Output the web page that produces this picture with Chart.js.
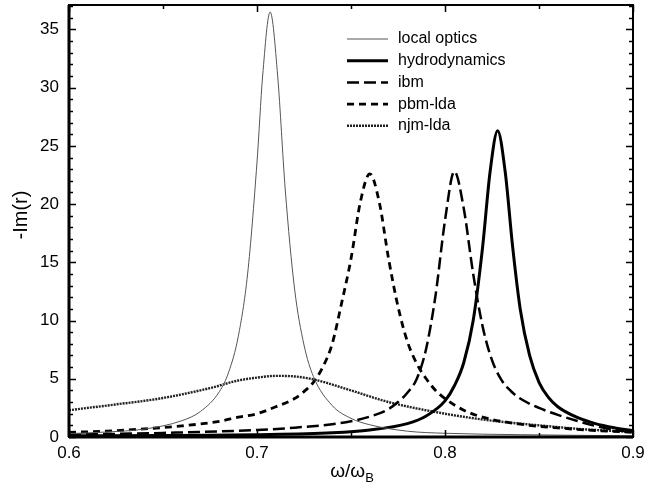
<!DOCTYPE html>
<html>
<head>
<meta charset="utf-8">
<script src="https://cdn.jsdelivr.net/npm/chart.js@4/dist/chart.umd.min.js"></script>
<style>
html, body { margin: 0; padding: 0; background: #fff; }
</style>
</head>
<body>
<canvas id="c" width="657" height="487"></canvas>
<script>
// axis ticks
const xTicks = [0.6, 0.7, 0.8, 0.9];
const yTicks = [0, 5, 10, 15, 20, 25, 30, 35];

// series
const localX = [0.6, 0.62, 0.64, 0.66, 0.67, 0.68, 0.685, 0.69, 0.695, 0.7, 0.703, 0.707, 0.711, 0.715, 0.72, 0.725, 0.73, 0.74, 0.75, 0.76, 0.78, 0.8, 0.84, 0.9];
const localY = [0.29, 0.43, 0.68, 1.4, 2.2, 3.9, 5.6, 8.6, 14.0, 23.6, 31.0, 36.5, 31.0, 21.3, 12.7, 7.9, 5.2, 2.7, 1.6, 1.05, 0.5, 0.32, 0.2, 0.1];

const hydroX = [0.6, 0.65, 0.7, 0.74, 0.76, 0.78, 0.79, 0.8, 0.805, 0.81, 0.815, 0.82, 0.824, 0.828, 0.832, 0.836, 0.84, 0.845, 0.85, 0.855, 0.86, 0.87, 0.88, 0.89, 0.9];
const hydroY = [0.1, 0.13, 0.2, 0.36, 0.6, 1.15, 1.8, 3.1, 4.4, 6.4, 10.0, 16.3, 22.8, 26.3, 22.8, 16.3, 11.0, 7.0, 4.7, 3.4, 2.6, 1.7, 1.15, 0.8, 0.55];

const ibmX = [0.6, 0.65, 0.7, 0.72, 0.74, 0.75, 0.76, 0.77, 0.775, 0.78, 0.785, 0.79, 0.795, 0.8, 0.805, 0.81, 0.815, 0.82, 0.825, 0.83, 0.835, 0.84, 0.85, 0.86, 0.87, 0.88, 0.89, 0.9];
const ibmY = [0.2, 0.35, 0.6, 0.8, 1.1, 1.35, 1.75, 2.4, 3.0, 3.8, 5.0, 7.6, 12.2, 18.6, 22.8, 19.6, 14.0, 9.5, 6.6, 4.9, 3.95, 3.3, 2.5, 1.9, 1.4, 0.95, 0.62, 0.4];

const pbmX = [0.6, 0.62, 0.64, 0.66, 0.68, 0.69, 0.7, 0.71, 0.72, 0.725, 0.73, 0.735, 0.74, 0.745, 0.75, 0.755, 0.76, 0.765, 0.77, 0.775, 0.78, 0.785, 0.79, 0.795, 0.8, 0.81, 0.82, 0.84, 0.86, 0.88, 0.9];
const pbmY = [0.4, 0.5, 0.7, 0.95, 1.35, 1.7, 2.0, 2.6, 3.3, 3.9, 4.7, 6.0, 8.0, 11.5, 15.3, 20.2, 22.6, 20.2, 15.3, 11.2, 8.2, 6.3, 5.0, 4.0, 3.3, 2.3, 1.7, 1.1, 0.78, 0.56, 0.4];

const njmX = [0.6, 0.625, 0.65, 0.675, 0.69, 0.7, 0.71, 0.72, 0.73, 0.75, 0.77, 0.8, 0.825, 0.85, 0.875, 0.9];
const njmY = [2.3, 2.8, 3.35, 4.2, 4.85, 5.1, 5.25, 5.2, 4.95, 4.0, 3.0, 2.0, 1.4, 1.0, 0.65, 0.45];

const labels = ["local optics", "hydrodynamics", "ibm", "pbm-lda", "njm-lda"];

const FONT = "'Liberation Sans', Arial, sans-serif";

function pts(xs, ys) {
    return xs.map((x, i) => ({x: x, y: ys[i]}));
}

const styles = [
    {borderColor: "#555", borderWidth: 1, borderDash: []},
    {borderColor: "#000", borderWidth: 3, borderDash: []},
    {borderColor: "#000", borderWidth: 2.5, borderDash: [12, 5]},
    {borderColor: "#000", borderWidth: 2.8, borderDash: [7, 5]},
    {borderColor: "#222", borderWidth: 2.4, borderDash: [2, 1]},
];

const series = [pts(localX, localY), pts(hydroX, hydroY), pts(ibmX, ibmY), pts(pbmX, pbmY), pts(njmX, njmY)];

const datasets = series.map((d, i) => Object.assign({
    label: labels[i],
    data: d,
    pointRadius: 0,
    fill: false,
    cubicInterpolationMode: "monotone",
}, styles[i]));

// inward ticks, frame, legend and axis titles
const decor = {
    id: "decor",
    afterDatasetsDraw(chart) {
        const {ctx, chartArea: a, scales: {x, y}} = chart;
        ctx.save();
        ctx.strokeStyle = "#000";
        ctx.lineWidth = 1.5;
        ctx.beginPath();
        for (let i = 0; i <= 37; i++) {
            const py = Math.round(y.getPixelForValue(i)) + 0.5;
            const len = i % 5 === 0 ? 7 : 4;
            ctx.moveTo(a.left, py); ctx.lineTo(a.left + len, py);
            ctx.moveTo(a.right, py); ctx.lineTo(a.right - len, py);
        }
        for (let i = 0; i <= 6; i++) {
            const px = Math.round(x.getPixelForValue(0.6 + 0.05 * i)) + 0.5;
            const len = i % 2 === 0 ? 7 : 4;
            ctx.moveTo(px, a.bottom); ctx.lineTo(px, a.bottom - len);
            ctx.moveTo(px, a.top); ctx.lineTo(px, a.top + len);
        }
        ctx.stroke();

        ctx.lineWidth = 2;
        ctx.strokeRect(a.left, a.top, a.right - a.left, a.bottom - a.top);
        ctx.lineWidth = 3;
        ctx.beginPath();
        ctx.moveTo(a.left, a.top); ctx.lineTo(a.left, a.bottom);
        ctx.moveTo(a.left, a.bottom); ctx.lineTo(a.right, a.bottom);
        ctx.stroke();

        // legend
        ctx.font = "16px " + FONT;
        ctx.fillStyle = "#000";
        ctx.textBaseline = "middle";
        ctx.textAlign = "left";
        labels.forEach((lab, i) => {
            const ly = 39 + i * 21.7;
            const s = styles[i];
            ctx.strokeStyle = s.borderColor;
            ctx.lineWidth = s.borderWidth;
            ctx.setLineDash(s.borderDash);
            ctx.beginPath();
            ctx.moveTo(347, ly); ctx.lineTo(388, ly);
            ctx.stroke();
            ctx.setLineDash([]);
            ctx.fillText(lab, 398, ly);
        });

        // y title
        ctx.save();
        ctx.translate(21, 215);
        ctx.rotate(-Math.PI / 2);
        ctx.textAlign = "center";
        ctx.font = "20px " + FONT;
        ctx.fillText("-Im(r)", 0, 0);
        ctx.restore();

        // x title with subscript
        ctx.font = "19px " + FONT;
        const main = "\u03c9/\u03c9";
        const w1 = ctx.measureText(main).width;
        ctx.font = "13px " + FONT;
        const w2 = ctx.measureText("B").width;
        const x0 = 352 - (w1 + w2) / 2;
        ctx.font = "19px " + FONT;
        ctx.fillText(main, x0, 472);
        ctx.font = "13px " + FONT;
        ctx.fillText("B", x0 + w1, 478);
        ctx.restore();
    }
};

new Chart(document.getElementById("c"), {
    type: "line",
    data: {datasets: datasets},
    options: {
        responsive: false,
        animation: false,
        layout: {padding: {top: 5, right: 24, left: 0, bottom: 0}},
        plugins: {legend: {display: false}, tooltip: {enabled: false}},
        scales: {
            x: {
                type: "linear",
                min: 0.6,
                max: 0.9,
                afterBuildTicks: (s) => { s.ticks = xTicks.map(v => ({value: v})); },
                afterFit: (s) => { s.height = 50; s.paddingLeft = 0; s.paddingRight = 0; },
                grid: {display: false, drawTicks: false},
                border: {display: false},
                ticks: {
                    padding: 6,
                    color: "#000",
                    font: {family: FONT, size: 17},
                    maxRotation: 0,
                    callback: (v) => v.toFixed(1)
                }
            },
            y: {
                type: "linear",
                min: 0,
                max: 37.1,
                afterBuildTicks: (s) => { s.ticks = yTicks.map(v => ({value: v})); },
                afterFit: (s) => { s.width = 69; s.paddingTop = 0; s.paddingBottom = 0; },
                grid: {display: false, drawTicks: false},
                border: {display: false},
                ticks: {
                    padding: 10,
                    color: "#000",
                    font: {family: FONT, size: 17},
                    callback: (v) => String(v)
                }
            }
        }
    },
    plugins: [decor]
});
</script>
</body>
</html>
